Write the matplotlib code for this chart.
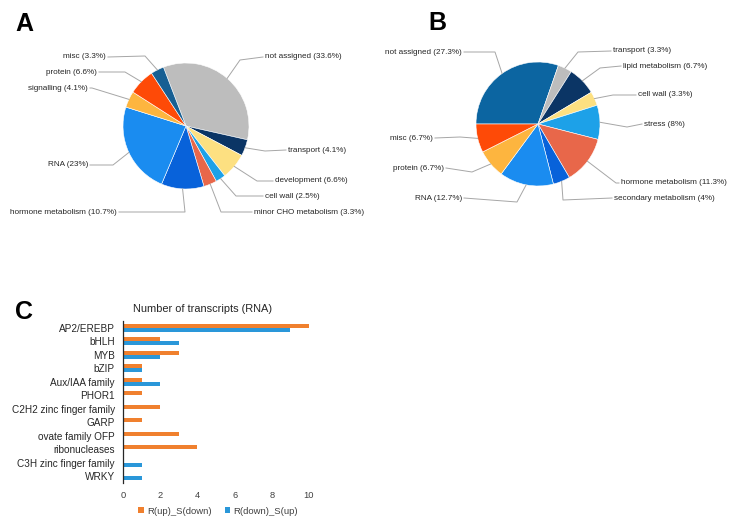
import matplotlib
matplotlib.use("Agg")
import matplotlib.pyplot as plt
import numpy as np

plt.rcParams['font.family'] = ['Liberation Sans', 'DejaVu Sans']

W, H = 732, 521

# --- panel A : pie of categories
a_names = ['not assigned', 'transport', 'development', 'cell wall', 'minor CHO metabolism',
           'hormone metabolism', 'RNA', 'signalling', 'protein', 'misc']
a_values = [33.6, 4.1, 6.6, 2.5, 3.3, 10.7, 23, 4.1, 6.6, 3.3]
a_colors = ['#bdbdbd', '#0b3565', '#fde081', '#1da1e8', '#e8674a',
            '#0862da', '#1a8cf0', '#fdb53f', '#fe4a07', '#175f93']

# --- panel B
b_names = ['not assigned', 'transport', 'lipid metabolism', 'cell wall', 'stress',
           'hormone metabolism', 'secondary metabolism', 'RNA', 'protein', 'misc']
b_values = [27.3, 3.3, 6.7, 3.3, 8, 11.3, 4, 12.7, 6.7, 6.7]
b_colors = ['#0c65a1', '#bdbdbd', '#0b3565', '#fde081', '#1da1e8',
            '#e8674a', '#0862da', '#1a8cf0', '#fdb53f', '#fe4a07']

# --- panel C : bar chart
c_cats = ['AP2/EREBP', 'bHLH', 'MYB', 'bZIP', 'Aux/IAA family', 'PHOR1',
          'C2H2 zinc finger family', 'GARP', 'ovate family OFP', 'ribonucleases',
          'C3H zinc finger family', 'WRKY']
c_up = [10, 2, 3, 1, 1, 1, 2, 1, 3, 4, 0, 0]
c_down = [9, 3, 2, 1, 2, 0, 0, 0, 0, 0, 1, 1]
c_series = ['R(up)_S(down)', 'R(down)_S(up)']

# label layout in pixels: name -> (text x, text y, ha, elbow x, elbow y)
a_layout = {
    'not assigned': (265, 57, 'left', 240, 60),
    'transport': (288, 150, 'left', 265, 151),
    'development': (275, 181, 'left', 257, 181),
    'cell wall': (265, 196, 'left', 236, 196),
    'minor CHO metabolism': (254, 212, 'left', 221, 212),
    'hormone metabolism': (117, 212, 'right', 185, 212),
    'RNA': (88, 165, 'right', 113, 165),
    'signalling': (88, 88, 'right', 92, 88),
    'protein': (97, 72, 'right', 125, 72),
    'misc': (106, 57, 'right', 145, 56),
}
b_layout = {
    'not assigned': (462, 52, 'right', 495, 52),
    'transport': (613, 51, 'left', 578, 52),
    'lipid metabolism': (623, 66, 'left', 600, 68),
    'cell wall': (638, 95, 'left', 613, 95),
    'stress': (644, 124, 'left', 627, 127),
    'hormone metabolism': (621, 183, 'left', 616, 183),
    'secondary metabolism': (614, 198, 'left', 563, 200),
    'RNA': (462, 198, 'right', 517, 202),
    'protein': (444, 168, 'right', 472, 172),
    'misc': (433, 138, 'right', 460, 137),
}

fig = plt.figure(figsize=(W / 100, H / 100), dpi=100)
ax = fig.add_axes([0, 0, 1, 1])


def draw_pie(names, values, colors, cx, cy, r, start, layout):
    wedges, _ = ax.pie(values, colors=colors, startangle=start, counterclock=False,
                       center=(cx, H - cy), radius=r,
                       wedgeprops=dict(edgecolor='white', linewidth=0.4))
    for w, name, v in zip(wedges, names, values):
        tx, ty, ha, ex, ey = layout[name]
        mid = np.deg2rad((w.theta1 + w.theta2) / 2)
        px = cx + r * np.cos(mid)
        py = (H - cy) + r * np.sin(mid)
        gap = -2 if ha == 'left' else 2
        ax.plot([px, ex, tx + gap], [py, H - ey, H - ty], color='#a6a6a6', lw=0.7)
        ax.text(tx, H - ty, f'{name} ({v:g}%)', ha=ha, va='center', fontsize=5.9,
                color='#262626')


draw_pie(a_names, a_values, a_colors, 186, 126, 63, 111, a_layout)
draw_pie(b_names, b_values, b_colors, 538, 124, 62, 180, b_layout)
ax.set_aspect('auto')
ax.set_xlim(0, W)
ax.set_ylim(0, H)
ax.axis('off')

# panel letters
for letter, x, y in [('A', 15, 24), ('B', 428, 23), ('C', 15, 312)]:
    fig.text(x / W, 1 - y / H, letter, fontsize=18, fontweight='bold', va='center', ha='left')

# bar chart
bx = fig.add_axes([123 / W, 1 - 483 / H, 186 / W, 162 / H])
y = np.arange(len(c_cats))
bx.barh(y - 0.15, c_up, height=0.29, color='#f0802e', label=c_series[0])
bx.barh(y + 0.15, c_down, height=0.29, color='#2a97d9', label=c_series[1])
bx.set_ylim(len(c_cats) - 0.5, -0.5)
bx.set_xlim(0, 10)
bx.set_yticks(y)
bx.set_yticklabels(c_cats, fontsize=7.2, color='#262626')
bx.set_xticks([0, 2, 4, 6, 8, 10])
bx.tick_params(axis='x', length=0, labelsize=6.7, labelcolor='#404040', pad=6)
bx.tick_params(axis='y', length=0, pad=6)
for s in ['top', 'right', 'bottom']:
    bx.spines[s].set_visible(False)
bx.spines['left'].set_color('#262626')
bx.spines['left'].set_linewidth(0.9)

fig.text(203 / W, 1 - 309 / H, 'Number of transcripts (RNA)', ha='center', va='center',
         fontsize=7.9, color='#262626')
fig.legend(loc='center', bbox_to_anchor=(218 / W, 1 - 511 / H), ncol=2, frameon=False,
           fontsize=6.8, handlelength=0.6, handleheight=0.6, handletextpad=0.3,
           columnspacing=1.4, labelcolor='#404040', borderpad=0, borderaxespad=0)

fig.savefig('out.png', dpi=100)
